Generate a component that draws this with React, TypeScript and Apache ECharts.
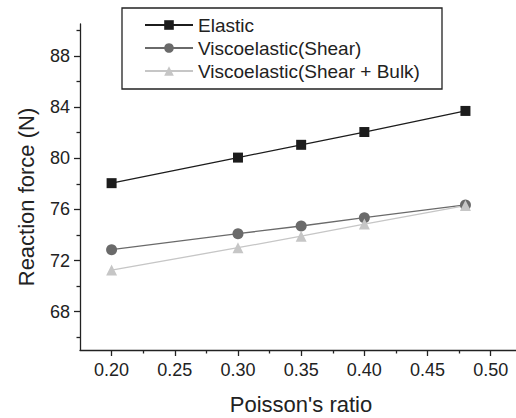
import React, { useEffect, useRef } from "react";
import * as echarts from "echarts";

const poisson = [0.2, 0.3, 0.35, 0.4, 0.48];
const elastic = [78.05, 80.05, 81.05, 82.05, 83.7];
const viscoShear = [72.85, 74.1, 74.7, 75.35, 76.35];
const viscoShearBulk = [71.25, 73.0, 73.9, 74.85, 76.3];

const xMajorTicks = [0.2, 0.25, 0.3, 0.35, 0.4, 0.45, 0.5];
const xMinorTicks = [0.225, 0.275, 0.325, 0.375, 0.425, 0.475];
const yMajorTicks = [68, 72, 76, 80, 84, 88];
const yMinorTicks = [66, 70, 74, 78, 82, 86, 90];

const seriesNames = ["Elastic", "Viscoelastic(Shear)", "Viscoelastic(Shear + Bulk)"];

const FONT = "'Liberation Sans', Arial, sans-serif";
const INK = "#222222";

export default function App() {
  const ref = useRef<HTMLDivElement>(null);
  useEffect(() => {
    if (!ref.current) return;
    const chart = echarts.init(ref.current, undefined, { renderer: "svg" });
    const pair = (ys: number[]) => poisson.map((x, i) => [x, ys[i]]);
    const xCommon = { type: "value", min: 0.175, max: 0.52, gridIndex: 0, position: "bottom", splitLine: { show: false } };
    const yCommon = { type: "value", min: 65, max: 90.5, gridIndex: 0, position: "left", splitLine: { show: false } };
    chart.setOption({
      animation: false,
      backgroundColor: "#ffffff",
      textStyle: { fontFamily: FONT },
      grid: { left: 80, right: 0, top: 24, bottom: 68 },
      xAxis: [
        {
          ...xCommon,
          axisLine: { show: true, lineStyle: { color: INK, width: 1.3 } },
          axisTick: { show: true, inside: false, length: 6, customValues: xMajorTicks, lineStyle: { color: INK, width: 1.3 } },
          axisLabel: {
            show: true,
            customValues: xMajorTicks,
            margin: 11,
            fontSize: 18,
            color: INK,
            fontFamily: FONT,
            formatter: (v: number) => v.toFixed(2),
          },
        },
        {
          ...xCommon,
          axisLine: { show: false },
          axisTick: { show: true, inside: false, length: 3.5, customValues: xMinorTicks, lineStyle: { color: INK, width: 1.3 } },
          axisLabel: { show: false },
        },
      ],
      yAxis: [
        {
          ...yCommon,
          axisLine: { show: true, lineStyle: { color: INK, width: 1.3 } },
          axisTick: { show: true, inside: false, length: 6, customValues: yMajorTicks, lineStyle: { color: INK, width: 1.3 } },
          axisLabel: {
            show: true,
            customValues: yMajorTicks,
            margin: 10,
            fontSize: 18,
            color: INK,
            fontFamily: FONT,
            formatter: (v: number) => String(Math.round(v)),
          },
        },
        {
          ...yCommon,
          axisLine: { show: false },
          axisTick: { show: true, inside: false, length: 3.5, customValues: yMinorTicks, lineStyle: { color: INK, width: 1.3 } },
          axisLabel: { show: false },
        },
      ],
      legend: {
        orient: "vertical",
        left: 144,
        top: 15.5,
        padding: 0,
        itemWidth: 48,
        itemHeight: 12,
        itemGap: 4,
        data: seriesNames,
        textStyle: { fontSize: 19, color: INK, fontFamily: FONT, lineHeight: 19 },
      },
      graphic: [
        {
          type: "rect",
          shape: { x: 122, y: 8, width: 320, height: 81 },
          style: { fill: "none", stroke: INK, lineWidth: 1.3 },
          silent: true,
        },
        {
          type: "text",
          x: 301,
          y: 404,
          style: {
            text: "Poisson's ratio",
            fontSize: 22,
            fontFamily: FONT,
            fill: INK,
            align: "center",
            verticalAlign: "middle",
          },
        },
        {
          type: "text",
          x: 26,
          y: 197,
          rotation: Math.PI / 2,
          style: {
            text: "Reaction force (N)",
            fontSize: 22,
            fontFamily: FONT,
            fill: INK,
            align: "center",
            verticalAlign: "middle",
          },
        },
      ],
      series: [
        {
          name: seriesNames[0],
          type: "line",
          data: pair(elastic),
          symbol: "rect",
          symbolSize: 10,
          itemStyle: { color: "#1c1c1c" },
          lineStyle: { color: "#1c1c1c", width: 1.3 },
        },
        {
          name: seriesNames[1],
          type: "line",
          data: pair(viscoShear),
          symbol: "circle",
          symbolSize: 11,
          itemStyle: { color: "#6a6a6a" },
          lineStyle: { color: "#6a6a6a", width: 1.3 },
        },
        {
          name: seriesNames[2],
          type: "line",
          data: pair(viscoShearBulk),
          symbol: "triangle",
          symbolSize: 11,
          itemStyle: { color: "#c6c6c6" },
          lineStyle: { color: "#c6c6c6", width: 1.3 },
        },
      ],
    });
    return () => chart.dispose();
  }, []);
  return <div ref={ref} style={{ width: 516, height: 418, position: "absolute", left: 0, top: 0 }} />;
}
